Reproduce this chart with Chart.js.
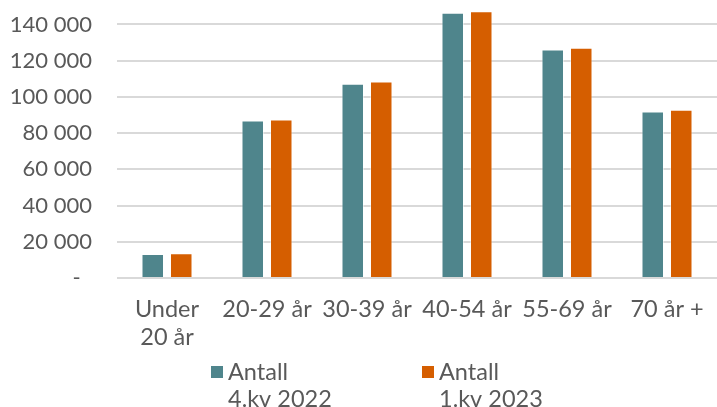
<!DOCTYPE html>
<html>
<head>
<meta charset="utf-8">
<script src="https://cdn.jsdelivr.net/npm/chart.js@4.4.1/dist/chart.umd.min.js"></script>
<style>
  html, body { margin: 0; padding: 0; background: #fff; overflow: hidden; }
  #wrap { position: absolute; left: 0; top: -50px; width: 717px; height: 480px; }
</style>
</head>
<body>
<div id="wrap"><canvas id="chart"></canvas></div>
<script>
const categories = [["Under", "20 år"], "20-29 år", "30-39 år", "40-54 år", "55-69 år", "70 år +"];
const antall2022 = [13200, 87000, 107300, 146400, 126200, 91900];
const antall2023 = [13700, 87500, 108500, 147300, 127100, 92900];
const seriesLabels = [["Antall", "4.kv 2022"], ["Antall", "1.kv 2023"]];
const colors = ["#4f858c", "#d55e00"];

const textColor = "#595959";
// excel style: "-" for zero, space as thousands separator, top tick hidden
const fmt = (v) => {
  if (v === 0) return "-  ";
  if (v > 140000) return "";
  return String(v).replace(/\B(?=(\d{3})+(?!\d))/g, " ");
};

// legend drawn under the axis labels, two columns, multi-line text
const bottomLegend = {
  id: "bottomLegend",
  afterDraw(chart) {
    const c = chart.ctx;
    const xs = [211, 422];
    const y = chart.chartArea.bottom + 94; // first text line
    c.save();
    c.font = "23.5px Lato";
    c.textBaseline = "middle";
    chart.data.datasets.forEach((ds, i) => {
      c.fillStyle = ds.backgroundColor;
      c.fillRect(xs[i], y - 6, 12, 12);
      c.fillStyle = textColor;
      ds.label.forEach((line, j) => c.fillText(line, xs[i] + 17, y + j * 27));
    });
    c.restore();
  },
};

const ctx = document.getElementById("chart").getContext("2d");
new Chart(ctx, {
  type: "bar",
  data: {
    labels: categories,
    datasets: [
      {
        label: seriesLabels[0],
        data: antall2022,
        backgroundColor: colors[0],
        borderColor: "rgba(255,255,255,0.45)",
        borderWidth: 1,
        categoryPercentage: 0.57,
        barPercentage: 0.79,
      },
      {
        label: seriesLabels[1],
        data: antall2023,
        backgroundColor: colors[1],
        borderColor: "rgba(255,255,255,0.45)",
        borderWidth: 1,
        categoryPercentage: 0.57,
        barPercentage: 0.79,
      },
    ],
  },
  plugins: [bottomLegend],
  options: {
    responsive: true,
    maintainAspectRatio: false,
    animation: false,
    layout: { padding: { top: 17.4, left: 0, right: 0, bottom: 52 } },
    plugins: {
      tooltip: { enabled: false },
      legend: { display: false },
    },
    scales: {
      x: {
        grid: { display: false },
        border: { display: false },
        afterFit: (s) => { s.height = 100; },
        ticks: {
          color: textColor,
          font: { family: "Lato", size: 23.5, lineHeight: 1.19 },
          maxRotation: 0,
          autoSkip: false,
          padding: 9,
        },
      },
      y: {
        min: 0,
        max: 160000,
        grid: { color: "#d9d9d9", lineWidth: 2, drawTicks: false },
        border: { display: false },
        afterFit: (s) => { s.width = 117; },
        ticks: {
          stepSize: 20000,
          color: textColor,
          font: { family: "Lato", size: 22 },
          padding: 25,
          callback: (v) => fmt(v),
        },
      },
    },
  },
});
</script>
</body>
</html>
